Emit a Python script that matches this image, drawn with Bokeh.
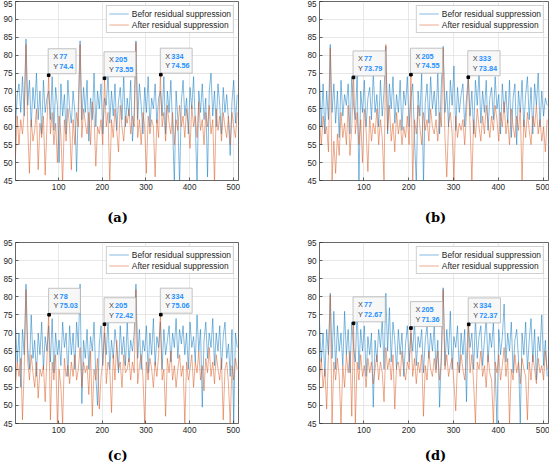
from bokeh.plotting import figure
from bokeh.models import Range1d, Label
from bokeh.layouts import column, row
from bokeh.core.properties import value
from bokeh.embed import file_html
from bokeh.resources import INLINE

# ---------------- data ----------------
x_start = 1
x_step = 4

a_before = [60, 69, 72, 64, 74, 63, 84.5, 66, 73, 60, 71, 65, 75, 62, 70, 58,
            73, 64, 68, 70, 62, 74, 59, 71, 66, 50, 72, 63, 69, 58, 73, 65,
            61, 70, 64, 47.5, 66, 84, 62, 71, 64, 73, 56, 68, 62, 75, 60, 70,
            65, 72, 58, 68, 66, 75, 61, 70, 63, 72, 59, 67, 71, 62, 74, 60,
            68, 63, 73, 56, 64, 84, 62, 72, 66, 58, 71, 64, 74, 60, 68, 65,
            72, 61, 68, 70, 63, 74, 58, 70, 64, 73, 60, 44, 70, 62, 44, 67,
            73, 63, 68, 58, 71, 65, 74, 61, 44, 70, 64, 72, 62, 68, 46, 70,
            75, 63, 70, 60, 72, 66, 58, 71, 64, 69, 62, 52, 67, 73, 61, 69]
a_after = [52, 63, 55, 62, 58, 64, 83, 60, 47, 62, 56, 59, 65, 48, 61, 57,
           63, 46.5, 60, 74.4, 58, 64, 55, 61, 50, 63, 58, 44, 62, 56, 65, 60,
           48, 62, 55, 64, 60, 83, 57, 65, 61, 58, 64, 55, 67, 63, 49, 60,
           58, 62, 55, 73.55, 60, 64, 44, 62, 57, 65, 59, 53, 66, 60, 56, 63,
           61, 65, 58, 63, 60, 83.5, 57, 62, 55, 64, 60, 47, 63, 58, 62, 60,
           46, 62, 57, 74.56, 60, 64, 56, 66, 61, 58, 64, 55, 62, 59, 66, 60,
           63, 57, 65, 61, 54, 66, 60, 63, 57, 67, 59, 62, 55, 64, 60, 66,
           58, 62, 44, 65, 59, 63, 56, 64, 60, 57, 63, 55, 64, 60, 57, 64]

b_before = [74, 60, 72, 58, 70, 62, 83, 64, 72, 61, 70, 57, 73, 63, 69, 66,
            72, 58, 74, 66, 62, 75, 44, 70, 64, 73, 60, 68, 71, 62, 75, 64,
            69, 60, 73, 63, 70, 82.5, 58, 72, 65, 74, 61, 69, 64, 73, 59, 70,
            66, 74, 60, 68, 72, 57, 44, 70, 63, 75, 44, 67, 72, 61, 74, 65,
            70, 63, 75, 58, 72, 82.5, 64, 70, 60, 73, 66, 77, 59, 71, 64, 69,
            72, 60, 68, 74, 63, 70, 58, 73, 66, 75, 61, 70, 64, 73, 59, 68,
            71, 62, 74, 65, 69, 58, 72, 64, 70, 61, 73, 57, 68, 72, 55, 70,
            64, 73, 60, 69, 74, 62, 71, 58, 72, 66, 75, 60, 70, 63, 68, 66]
b_after = [62, 55, 63, 58, 60, 53, 82, 45, 56, 47, 58, 52, 64, 57, 61, 55,
           66, 52, 60, 73.79, 58, 64, 55, 62, 50, 65, 59, 47.5, 63, 56, 61, 58,
           65, 55, 62, 57, 45, 83, 59, 66, 56, 61, 53, 64, 58, 62, 55, 60,
           57, 63, 55, 74.55, 45, 62, 58, 66, 60, 55, 64, 59, 62, 56, 65, 60,
           58, 62, 56, 64, 60, 82, 57, 46, 61, 64, 58, 45, 63, 57, 61, 59,
           62, 55, 64, 73.84, 60, 45, 62, 57, 65, 60, 56, 63, 58, 66, 61, 57,
           63, 59, 66, 62, 56, 64, 60, 67, 58, 62, 55, 65, 60, 57, 63, 59,
           65, 45, 62, 57, 64, 59, 55, 63, 60, 66, 58, 62, 56, 60, 53, 62]

c_before = [72, 62, 70, 55, 71, 64, 83.5, 66, 60, 75, 63, 68, 58, 70, 64, 73,
            60, 69, 65, 72, 62, 74, 59, 70, 64, 68, 61, 73, 66, 70, 58, 72,
            64, 70, 60, 73, 66, 83.5, 50.5, 68, 63, 71, 60, 69, 65, 73, 58, 50,
            67, 72, 61, 70, 64, 74, 60, 68, 63, 71, 66, 59, 72, 64, 69, 61,
            73, 62, 68, 65, 70, 83.5, 63, 71, 60, 68, 65, 72, 59, 70, 64, 74,
            61, 69, 66, 73, 60, 71, 64, 68, 72, 62, 70, 66, 74, 63, 71, 67,
            72, 64, 70, 60, 73, 66, 69, 62, 75, 65, 71, 49.5, 68, 73, 63, 70,
            66, 74, 61, 70, 65, 72, 60, 69, 73, 63, 67, 58, 71, 45, 70, 66]
c_after = [56, 62, 58, 63, 46, 60, 82, 62, 57, 64, 59, 55, 62, 52, 60, 58,
           61, 51, 63, 75.03, 46, 62, 57, 64, 45, 60, 55, 45, 63, 58, 61, 56,
           62, 58, 64, 57, 60, 66, 55, 62, 59, 61, 53, 65, 47, 60, 57, 63,
           49, 58, 62, 72.42, 56, 62, 60, 48, 64, 57, 68, 60, 62, 55, 64, 59,
           60, 63, 57, 62, 59, 82, 56, 61, 64, 58, 45, 62, 57, 63, 60, 55,
           62, 58, 64, 75.06, 57, 60, 47, 63, 59, 65, 57, 61, 55, 60, 64, 58,
           61, 45, 62, 57, 60, 64, 55, 62, 59, 65, 57, 61, 54, 63, 59, 66,
           58, 62, 56, 64, 60, 57, 63, 46, 60, 62, 56, 45, 61, 57, 63, 60]

d_before = [73, 62, 70, 58, 71, 64, 81, 63, 76, 60, 72, 65, 70, 61, 76, 64,
            71, 59, 73, 66, 62, 77, 60, 71, 65, 72, 58, 69, 64, 70, 49.5, 68,
            62, 71, 66, 74, 60, 81, 65, 77, 62, 73, 68, 60, 71, 64, 70, 58,
            67, 72, 62, 70, 65, 73, 61, 69, 66, 71, 59, 68, 72, 63, 70, 65,
            72, 60, 68, 49.5, 65, 82.5, 61, 71, 64, 76, 60, 69, 66, 72, 59, 70,
            64, 71, 51, 73, 66, 70, 60, 74, 63, 69, 72, 61, 68, 74, 62, 70,
            66, 73, 60, 45, 71, 64, 69, 78, 62, 70, 65, 73, 59, 68, 71, 63,
            45, 70, 64, 73, 60, 68, 74, 62, 71, 57, 69, 65, 75, 61, 68, 58]
d_after = [57, 63, 55, 60, 49, 64, 80.5, 45, 62, 57, 63, 58, 45, 61, 55, 64,
           59, 65, 47, 72.67, 45, 62, 57, 64, 58, 61, 55, 63, 59, 62, 56, 60,
           64, 57, 62, 59, 51, 66, 60, 63, 57, 64, 49, 61, 62, 58, 65, 60,
           57, 62, 60, 71.36, 58, 63, 56, 62, 59, 64, 47, 61, 57, 65, 60, 58,
           63, 59, 65, 57, 62, 82, 60, 64, 58, 61, 63, 56, 48.5, 62, 59, 64,
           60, 57, 63, 72.37, 59, 64, 56, 45, 62, 60, 65, 58, 61, 55, 64, 59,
           57, 45, 62, 59, 64, 57, 61, 66, 58, 63, 45, 60, 57, 64, 59, 62,
           56, 63, 60, 58, 46, 62, 57, 64, 60, 56, 63, 59, 61, 57, 65, 60]

a_tip_x = [77, 205, 334]
a_tip_y = [74.4, 73.55, 74.56]
b_tip_x = [77, 205, 333]
b_tip_y = [73.79, 74.55, 73.84]
c_tip_x = [78, 205, 334]
c_tip_y = [75.03, 72.42, 75.06]
d_tip_x = [77, 205, 334]
d_tip_y = [72.67, 71.36, 72.37]

panel_letters = ["(a)", "(b)", "(c)", "(d)"]
legend_labels = ["Befor residual suppression", "After residual suppression"]
x_ticks = [100, 200, 300, 400, 500]
y_ticks = [45, 50, 55, 60, 65, 70, 75, 80, 85, 90, 95]
x_lo, x_hi = 1, 512
y_lo, y_hi = 45, 95

# ---------------- styling ----------------
BLUE = "#0072BD"
ORANGE = "#D95319"
AX = "#262626"
LEFT_W, RIGHT_W = 272, 277
SANS = "Liberation Sans"
TIP_FONT = 7.3  # px


def text_width(s, fs):
    # rough Arial metrics: digits 0.556 em, '.' 0.278 em
    return sum((0.278 if ch == "." else 0.556) for ch in s) * fs


def make_panel(before, after, tip_x, tip_y, fig_w, left, frame_w, top, frame_h, bottom):
    xs = [x_start + x_step * i for i in range(len(before))]
    p = figure(width=fig_w, height=top + frame_h + bottom,
               x_range=Range1d(x_lo, x_hi), y_range=Range1d(y_lo, y_hi),
               output_backend="svg", toolbar_location=None,
               min_border_left=left, min_border_right=fig_w - left - frame_w,
               min_border_top=top, min_border_bottom=bottom)
    p.background_fill_color = "white"
    p.border_fill_color = "white"
    p.outline_line_color = AX
    p.outline_line_width = 0.7

    for ax in (p.xaxis[0], p.yaxis[0]):
        ax.axis_line_color = None
        ax.major_tick_in = 3
        ax.major_tick_out = 0
        ax.minor_tick_line_color = None
        ax.major_tick_line_color = AX
        ax.major_tick_line_width = 0.7
        ax.major_label_text_font = SANS
        ax.major_label_text_font_size = "8.2px"
        ax.major_label_text_color = AX
        ax.major_label_standoff = 3
    p.xaxis.ticker = x_ticks
    p.yaxis.ticker = y_ticks
    p.xgrid.ticker = x_ticks
    p.ygrid.ticker = y_ticks
    p.grid.grid_line_color = "#dedede"
    p.grid.grid_line_width = 0.7

    p.line(xs, before, color=BLUE, line_width=0.55, line_alpha=0.9,
           legend_label=legend_labels[0])
    p.line(xs, after, color=ORANGE, line_width=0.55, line_alpha=0.9,
           legend_label=legend_labels[1])

    # data tips
    ux = (x_hi - x_lo) / frame_w
    uy = (y_hi - y_lo) / frame_h
    lefts, rights, bottoms, tops = [], [], [], []
    for tx, ty in zip(tip_x, tip_y):
        vw = max(text_width(str(tx), TIP_FONT), text_width(str(ty), TIP_FONT))
        w = 10.5 + vw + 3.5
        lefts.append(tx - 0.5 * ux)
        rights.append(tx + (w - 0.5) * ux)
        bottoms.append(ty + 1.5 * uy)
        tops.append(ty + 26.5 * uy)
    p.quad(left=lefts, right=rights, bottom=bottoms, top=tops,
           fill_color="#f7f7f7", fill_alpha=0.95, line_color="#b4b4b4", line_width=0.8)
    for tx, ty in zip(tip_x, tip_y):
        for name, val, dy in (("X", tx, 18.5), ("Y", ty, 9)):
            p.add_layout(Label(x=tx, y=ty, x_offset=4.5, y_offset=dy, text=name,
                               text_font=SANS, text_font_size=f"{TIP_FONT}px",
                               text_color="#454545", text_baseline="middle"))
            p.add_layout(Label(x=tx, y=ty, x_offset=10.5, y_offset=dy, text=str(val),
                               text_font=SANS, text_font_size=f"{TIP_FONT}px",
                               text_font_style="bold",
                               text_color="#1e90ff", text_baseline="middle"))
    p.scatter(tip_x, tip_y, marker="square", size=2.6, color="black")

    lg = p.legend[0]
    lg.location = "top_right"
    lg.margin = 4
    lg.padding = 2
    lg.spacing = 0
    lg.label_height = 11
    lg.glyph_height = 11
    lg.glyph_width = 20
    lg.label_standoff = 3
    lg.label_text_font = SANS
    lg.label_text_font_size = "8.4px"
    lg.label_text_color = AX
    lg.border_line_color = "#a0a0a0"
    lg.border_line_width = 0.7
    lg.background_fill_color = "white"
    lg.background_fill_alpha = 1
    return p


def make_letter(letter, fig_w, cx, height, cy):
    q = figure(width=fig_w, height=height, x_range=Range1d(0, fig_w),
               y_range=Range1d(0, height), output_backend="svg",
               toolbar_location=None, min_border=0)
    q.axis.visible = False
    q.grid.visible = False
    q.outline_line_color = None
    q.background_fill_color = "white"
    q.border_fill_color = "white"
    q.text(x=[cx], y=[height - cy], text=[letter], text_align="center",
           text_baseline="middle", text_font=value("DejaVu Serif"),
           text_font_style="bold", text_font_size=value("13px"), text_color="black")
    return q


pa = make_panel(a_before, a_after, a_tip_x, a_tip_y, LEFT_W, 12, 226, 1, 179, 20)
pb = make_panel(b_before, b_after, b_tip_x, b_tip_y, RIGHT_W, 47, 229, 1, 179, 20)
pc = make_panel(c_before, c_after, c_tip_x, c_tip_y, LEFT_W, 12, 226, 14, 181, 18)
pd = make_panel(d_before, d_after, d_tip_x, d_tip_y, RIGHT_W, 47, 229, 14, 181, 18)

la = make_letter(panel_letters[0], LEFT_W, 117, 28, 17)
lb = make_letter(panel_letters[1], RIGHT_W, 163, 28, 17)
lc = make_letter(panel_letters[2], LEFT_W, 117, 22, 14)
ld = make_letter(panel_letters[3], RIGHT_W, 163, 22, 14)

layout = column(row(pa, pb), row(la, lb), row(pc, pd), row(lc, ld))
open("out.html", "w").write(file_html(layout, INLINE))
